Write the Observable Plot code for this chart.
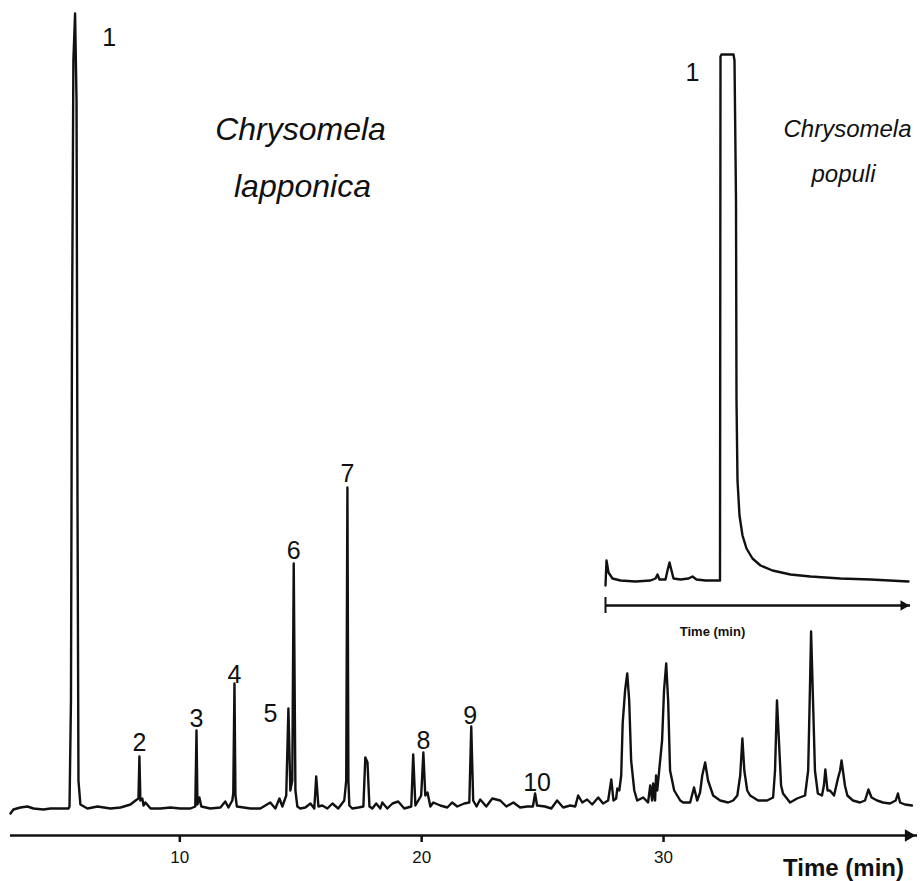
<!DOCTYPE html>
<html><head><meta charset="utf-8">
<script src="https://cdn.jsdelivr.net/npm/d3@7"></script>
<script src="https://cdn.jsdelivr.net/npm/@observablehq/plot@0.6"></script>
<style>
body{margin:0;background:#fff;}
#wrap{position:relative;width:920px;height:881px;overflow:hidden;}
#wrap svg{position:absolute;font-family:"Liberation Sans",Arial,sans-serif;background:transparent;}
</style></head><body><div id="wrap"></div>
<script>
// ---- Chrysomela lapponica chromatogram (time in min, detector response in arbitrary units) ----
const lapponicaTime = [3.00,3.12,3.41,3.70,3.95,4.36,4.65,5.07,5.40,5.44,5.50,5.54,5.60,5.67,5.73,5.77,5.81,5.89,6.18,6.60,7.13,7.55,7.96,8.17,8.29,8.33,8.37,8.45,8.50,8.58,8.79,9.20,9.61,10.02,10.44,10.64,10.69,10.73,10.81,10.89,11.26,11.68,11.88,12.01,12.17,12.21,12.26,12.30,12.36,12.92,13.33,13.74,13.95,14.12,14.24,14.40,14.49,14.57,14.65,14.71,14.78,14.86,14.98,15.19,15.40,15.56,15.64,15.73,15.89,16.10,16.31,16.55,16.80,16.88,16.93,16.97,17.01,17.13,17.38,17.59,17.67,17.76,17.84,17.96,18.12,18.29,18.37,18.58,18.79,19.03,19.28,19.57,19.65,19.74,19.86,19.98,20.07,20.15,20.24,20.36,20.48,20.77,21.06,21.26,21.47,21.76,21.97,22.05,22.13,22.27,22.42,22.67,22.92,23.25,23.50,23.79,24.07,24.36,24.60,24.69,24.77,25.10,25.36,25.60,25.85,26.14,26.35,26.47,26.64,26.84,27.05,27.30,27.50,27.71,27.84,27.93,28.04,28.09,28.17,28.25,28.31,28.41,28.50,28.58,28.66,28.79,28.91,29.16,29.36,29.45,29.53,29.57,29.65,29.69,29.74,29.78,29.94,30.02,30.11,30.19,30.27,30.44,30.69,30.81,31.10,31.26,31.39,31.51,31.60,31.72,31.84,32.05,32.34,32.67,32.88,33.05,33.17,33.26,33.34,33.46,33.58,33.91,34.28,34.53,34.61,34.69,34.77,34.86,34.94,35.23,35.52,35.85,35.98,36.06,36.10,36.18,36.26,36.38,36.55,36.63,36.69,36.78,36.88,37.05,37.21,37.30,37.36,37.50,37.60,37.83,38.12,38.33,38.47,38.60,38.83,39.07,39.36,39.60,39.69,39.78,39.98,40.27];
const lapponicaSignal = [-5,-1,1,2,0,-1,0,0,0,2,108,458,748,795,708,308,28,4,0,2,0,1,4,8,10,52,8,10,3,6,0,0,1,0,0,2,78,4,11,2,0,1,7,1,8,15,125,13,2,0,0,6,0,10,2,13,100,18,28,245,18,2,0,1,5,0,32,2,3,0,5,0,8,28,321,28,3,0,1,2,51,46,2,0,5,0,6,0,5,7,0,2,54,3,8,13,56,13,16,2,6,3,1,6,2,5,6,82,8,2,9,2,10,8,2,6,1,2,2,15,3,2,0,8,1,3,2,13,6,9,4,11,5,8,29,8,10,20,18,33,85,118,135,108,48,18,8,11,6,23,8,25,8,33,18,28,68,118,145,108,38,18,8,6,6,21,8,16,33,46,28,13,8,6,8,13,33,70,38,18,13,8,8,11,38,108,68,23,15,6,10,13,38,128,177,108,38,15,13,23,39,18,18,13,30,38,48,23,13,8,6,8,19,11,8,6,5,8,15,6,4,3];

// labelled compounds
const peakLabels  = ["1","2","3","4","5","6","7","8","9","10"];
const peakTimes   = [5.67,8.33,10.69,12.26,14.49,14.71,16.93,20.07,22.05,24.69];
const peakHeights = [795,52,78,125,100,245,321,56,82,15];

// axis
const timeDomain = [3.0, 40.5];
const xTicks = [10, 20, 30];
const axisLevel = -27;

// ---- Chrysomela populi inset (arbitrary time, clipped main peak) ----
const populiTime   = [0,0.1,0.3,0.7,1.5,3.0,4.5,5.0,5.2,5.4,6.0,6.2,6.4,6.6,6.8,7.5,8.3,8.7,9.1,10.0,11.3,11.45,11.5,11.6,12.8,12.9,13.05,13.1,13.2,13.4,13.7,14.1,14.7,15.5,16.7,18.5,20.5,23.5,26.5,30.3];
const populiSignal = [-2,23,11,5,3,2,3,5,9,4,4,13,21,13,5,4,5,7,4,3,3,3,527,529,529,523,383,183,103,68,48,35,25,18,13,9,7,5,4,2];
const populiDomain = [0, 30.5];
const populiAxisLevel = -22;

// ---- styling (label offsets in px) ----
const labelOffsets = {"1":[34,24],"2":[0,-14],"3":[0,-12],"4":[0,-9],"5":[-18,5],"6":[0,-13],"7":[0,-14],"8":[0,-12],"9":[-1,-11],"10":[2,-11]};
const ink = "#111";

const mainData = lapponicaTime.map((t, i) => ({t, a: lapponicaSignal[i]}));
const peaks = peakLabels.map((l, i) => ({label: l, t: peakTimes[i], a: peakHeights[i]}));

const labelMarks = peaks.map(p => Plot.text([p], {
  x: "t", y: "a", text: "label", dx: labelOffsets[p.label][0], dy: labelOffsets[p.label][1],
  fontSize: 25, fill: ink, lineAnchor: "middle", textAnchor: "middle"
}));

const main = Plot.plot({
  width: 920, height: 881,
  marginLeft: 10, marginRight: 3, marginTop: 8, marginBottom: 46,
  style: {background: "transparent", color: ink, fontFamily: "Liberation Sans, Arial, sans-serif"},
  x: {domain: timeDomain},
  y: {domain: [axisLevel, 800], axis: null},
  marks: [
    Plot.ruleY([axisLevel], {stroke: ink, strokeWidth: 2.5}),
    Plot.dot([{x: timeDomain[1], y: axisLevel}], {x: "x", y: "y", symbol: "triangle2", rotate: 90, r: 6, fill: ink, stroke: "none", dx: -9}),
    Plot.axisX({ticks: xTicks, tickSize: 7, tickPadding: 8, fontSize: 17, label: null, tickFormat: d => String(d), strokeWidth: 2.5}),
    Plot.line(mainData, {x: "t", y: "a", stroke: ink, strokeWidth: 2.4, strokeLinejoin: "round"}),
    ...labelMarks,
    Plot.text(["Chrysomela"], {frameAnchor: "top-left", dx: 290, dy: 121, fontSize: 32, fontStyle: "italic", fill: ink, textAnchor: "middle", lineAnchor: "middle"}),
    Plot.text(["lapponica"], {frameAnchor: "top-left", dx: 292, dy: 178, fontSize: 32, fontStyle: "italic", fill: ink, textAnchor: "middle", lineAnchor: "middle"}),
    Plot.text(["Chrysomela"], {frameAnchor: "top-left", dx: 837, dy: 121, fontSize: 24, fontStyle: "italic", fill: ink, textAnchor: "middle", lineAnchor: "middle"}),
    Plot.text(["populi"], {frameAnchor: "top-left", dx: 833, dy: 166, fontSize: 24, fontStyle: "italic", fill: ink, textAnchor: "middle", lineAnchor: "middle"}),
    Plot.text(["Time (min)"], {frameAnchor: "bottom-left", dx: 833, dy: 33, fontSize: 24, fontWeight: "bold", fill: ink, textAnchor: "middle", lineAnchor: "middle"})
  ]
});
main.style.left = "0px"; main.style.top = "0px";

const insetData = populiTime.map((t, i) => ({t, a: populiSignal[i]}));
const inset = Plot.plot({
  width: 325, height: 610,
  marginLeft: 10, marginRight: 10, marginTop: 14, marginBottom: 45,
  style: {background: "transparent", color: ink, fontFamily: "Liberation Sans, Arial, sans-serif"},
  x: {domain: populiDomain, axis: null},
  y: {domain: [populiAxisLevel, 529], axis: null},
  marks: [
    Plot.ruleY([populiAxisLevel], {stroke: ink, strokeWidth: 2.5}),
    Plot.ruleX([populiDomain[0]], {y1: populiAxisLevel + 8, y2: populiAxisLevel - 8, stroke: ink, strokeWidth: 2}),
    Plot.dot([{x: populiDomain[1], y: populiAxisLevel}], {x: "x", y: "y", symbol: "triangle2", rotate: 90, r: 5, fill: ink, stroke: "none", dx: -7}),
    Plot.line(insetData, {x: "t", y: "a", stroke: ink, strokeWidth: 2.4, strokeLinejoin: "round"}),
    Plot.text([{t: populiTime[22], a: populiSignal[23], label: "1"}], {x: "t", y: "a", text: "label", dx: -28, dy: 18, fontSize: 25, fill: ink, textAnchor: "middle", lineAnchor: "middle"}),
    Plot.text(["Time (min)"], {frameAnchor: "bottom-left", dx: 107, dy: 26, fontSize: 13, fontWeight: "bold", fill: ink, textAnchor: "middle", lineAnchor: "middle"})
  ]
});
inset.style.left = "595px"; inset.style.top = "40px";

const wrap = document.getElementById("wrap");
wrap.appendChild(main);
wrap.appendChild(inset);
</script>
</body></html>
